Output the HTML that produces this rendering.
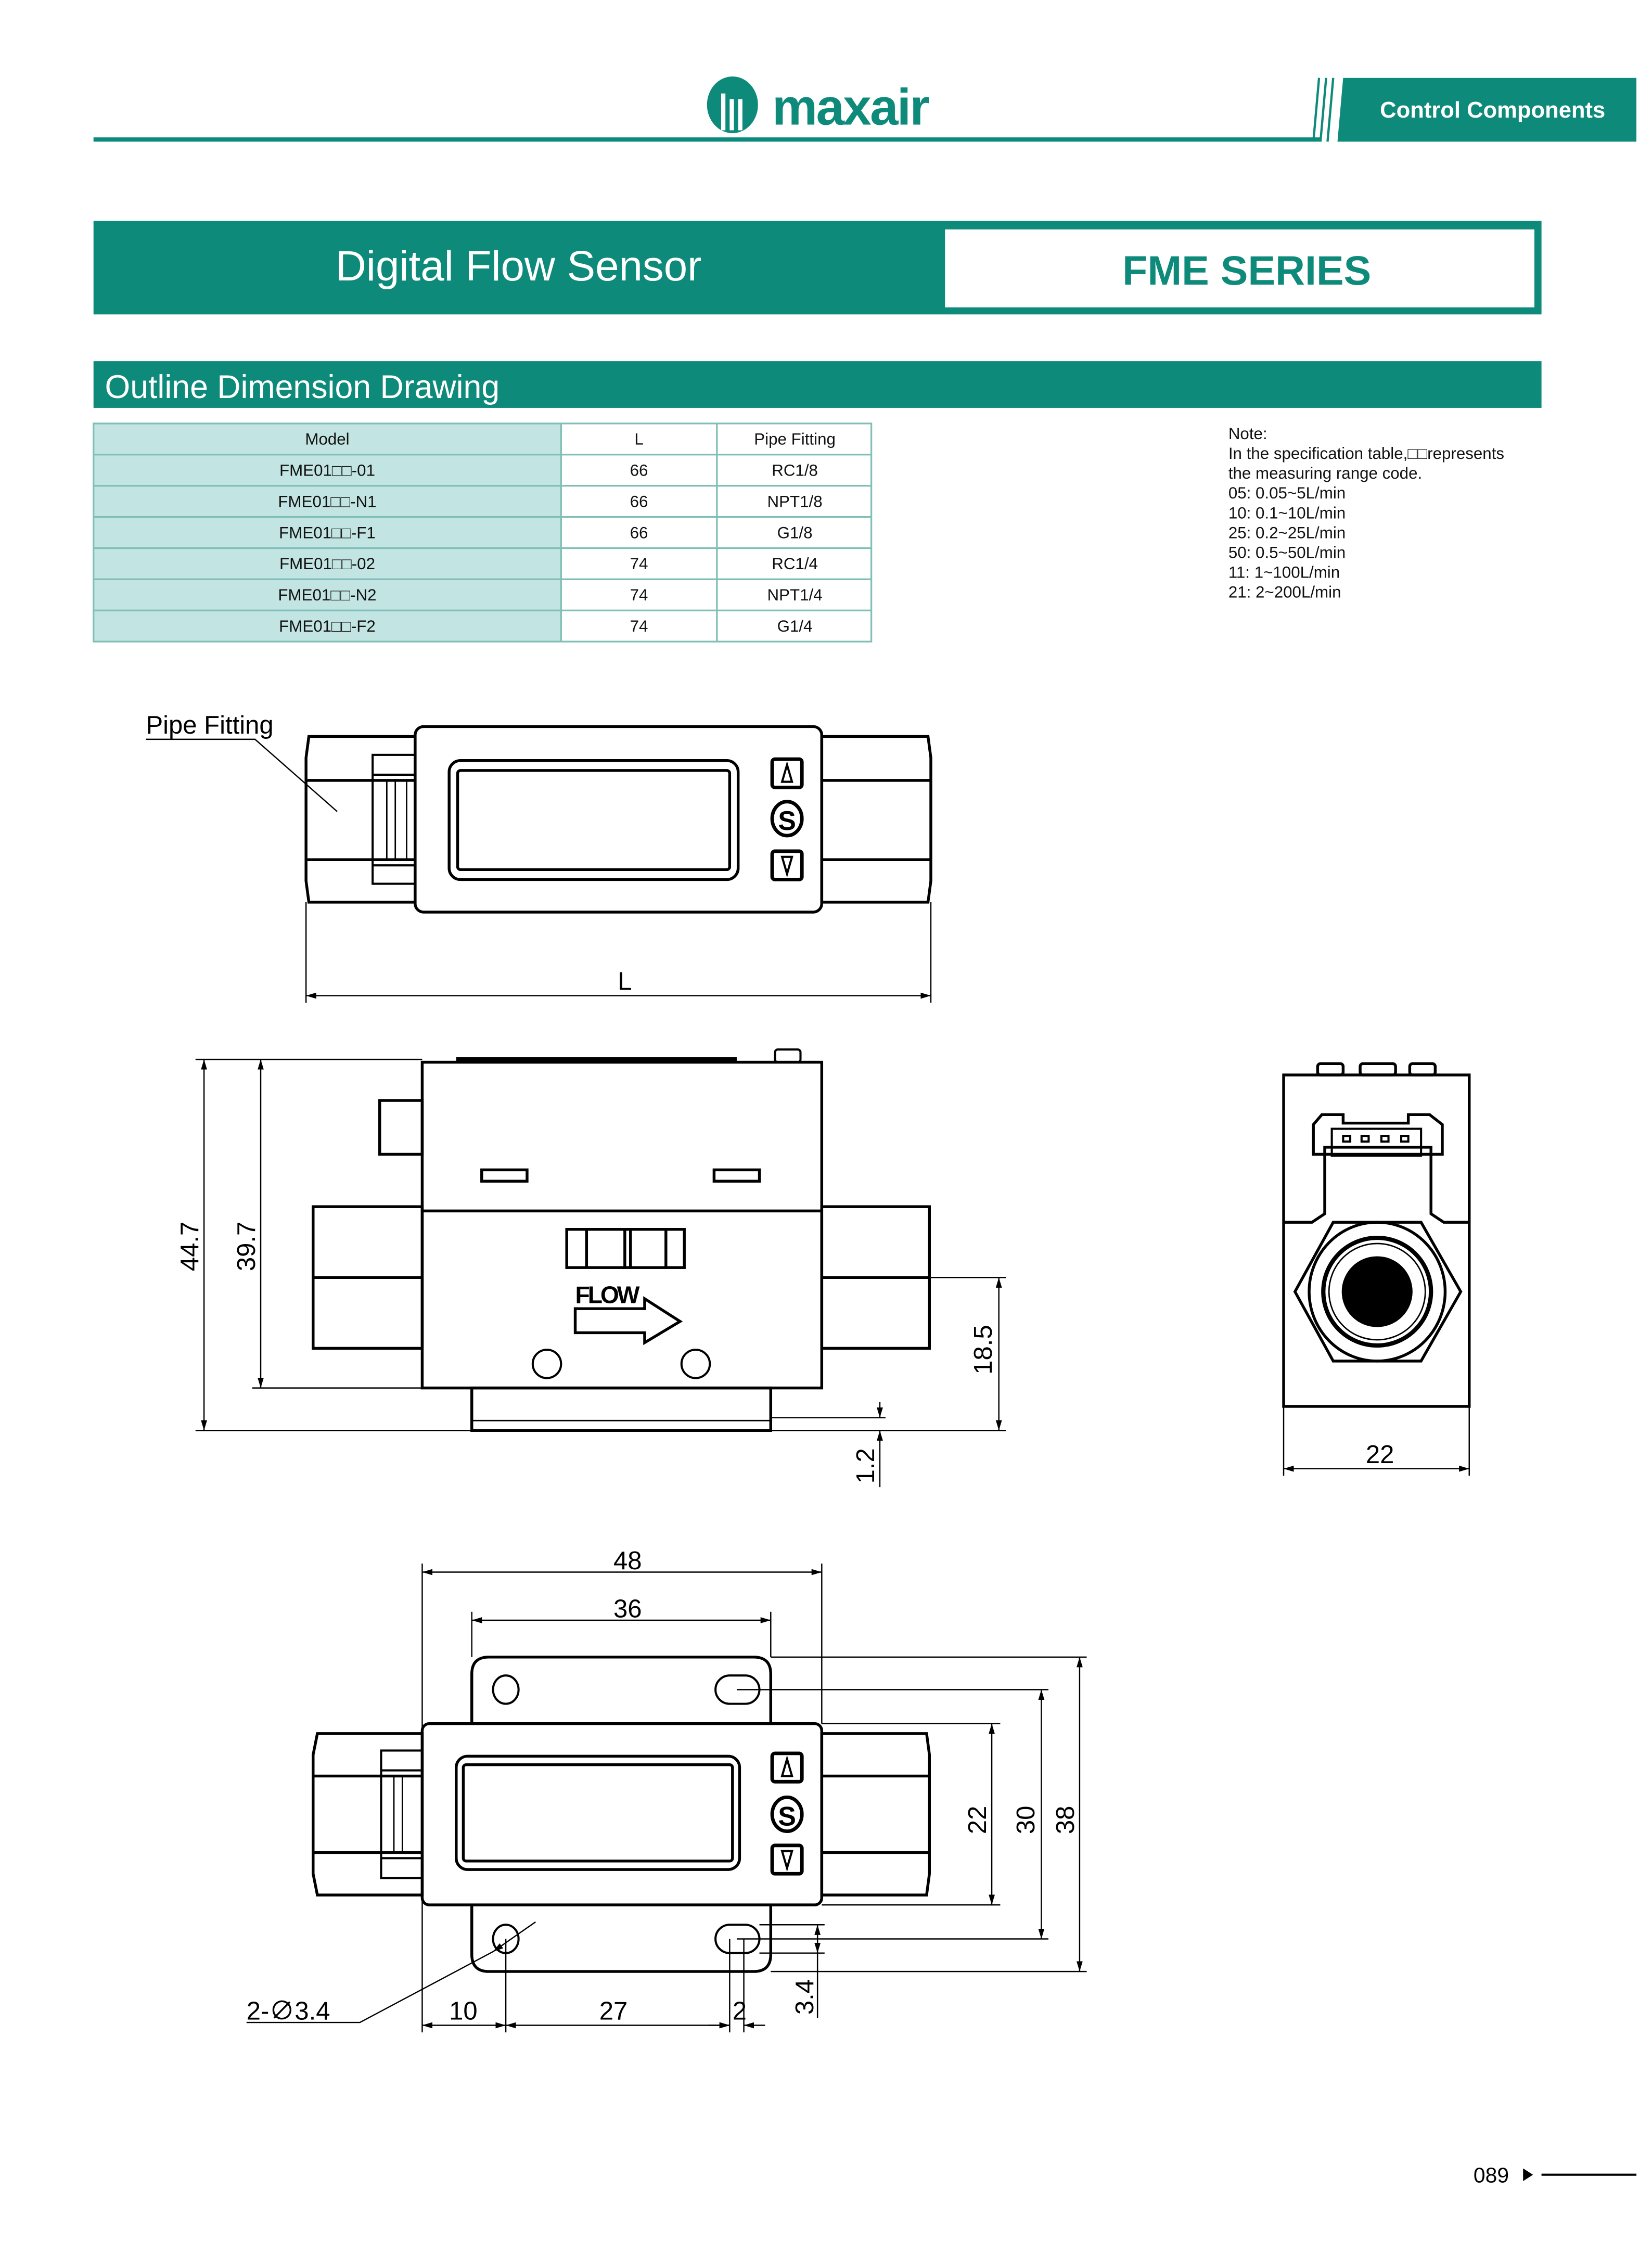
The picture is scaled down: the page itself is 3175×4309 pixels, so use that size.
<!DOCTYPE html>
<html><head><meta charset="utf-8">
<style>
html,body{margin:0;padding:0;background:#fff;}
svg{display:block;}
text{font-family:"Liberation Sans","Noto Sans CJK SC",sans-serif;}
</style></head>
<body>
<svg width="3175" height="4309" viewBox="0 0 1166 1583" preserveAspectRatio="none" xmlns="http://www.w3.org/2000/svg">
<defs>
<marker id="a" viewBox="0 0 10 6" refX="10" refY="3" markerWidth="8" markerHeight="5" orient="auto-start-reverse"><path d="M0,0 L10,3 L0,6 z" fill="#000"/></marker>
</defs>
<rect width="1166" height="1583" fill="#fff"/>
<!-- header -->
<g fill="#0e8a7b">
<ellipse cx="517" cy="74" rx="18" ry="20"/>
<rect x="509" y="66" width="3" height="26" fill="#fff"/><rect x="515" y="70" width="3" height="22" fill="#fff"/><rect x="521" y="70" width="3" height="22" fill="#fff"/>
</g>
<text x="545" y="88" font-size="36" font-weight="bold" fill="#0e8a7b" letter-spacing="-1">maxair</text>
<rect x="66" y="97" width="866" height="3" fill="#0e8a7b"/>
<polygon points="948,55 1155,55 1155,100 944,100" fill="#0e8a7b"/>
<g stroke="#0e8a7b" stroke-width="1.6"><line x1="941" y1="55" x2="937" y2="100"/><line x1="936" y1="55" x2="932" y2="100"/><line x1="931" y1="55" x2="927" y2="100"/></g>
<text x="974" y="83" font-size="16" font-weight="bold" fill="#fff">Control Components</text>
<!-- title -->
<rect x="66" y="156" width="1022" height="66" fill="#0e8a7b"/>
<rect x="667" y="162" width="416" height="55" fill="#fff"/>
<text x="366" y="198" font-size="30" fill="#fff" text-anchor="middle">Digital Flow Sensor</text>
<text x="880" y="201" font-size="29" font-weight="bold" fill="#0e8a7b" text-anchor="middle">FME SERIES</text>
<rect x="66" y="255" width="1022" height="33" fill="#0e8a7b"/>
<text x="74" y="281" font-size="23" fill="#fff">Outline Dimension Drawing</text>
<!-- table -->
<rect x="66" y="299" width="330" height="154" fill="#c2e4e2"/>
<g stroke="#7fbfb6" stroke-width="1.2" fill="none">
<rect x="66" y="299" width="549" height="154"/>
<line x1="396" y1="299" x2="396" y2="453"/><line x1="506" y1="299" x2="506" y2="453"/>
<line x1="66" y1="321" x2="615" y2="321"/><line x1="66" y1="343" x2="615" y2="343"/><line x1="66" y1="365" x2="615" y2="365"/><line x1="66" y1="387" x2="615" y2="387"/><line x1="66" y1="409" x2="615" y2="409"/><line x1="66" y1="431" x2="615" y2="431"/>
</g>
<g font-size="11.5" text-anchor="middle" fill="#111">
<text x="231" y="314">Model</text><text x="451" y="314">L</text><text x="561" y="314">Pipe Fitting</text>
<text x="231" y="336">FME01□□-01</text><text x="451" y="336">66</text><text x="561" y="336">RC1/8</text>
<text x="231" y="358">FME01□□-N1</text><text x="451" y="358">66</text><text x="561" y="358">NPT1/8</text>
<text x="231" y="380">FME01□□-F1</text><text x="451" y="380">66</text><text x="561" y="380">G1/8</text>
<text x="231" y="402">FME01□□-02</text><text x="451" y="402">74</text><text x="561" y="402">RC1/4</text>
<text x="231" y="424">FME01□□-N2</text><text x="451" y="424">74</text><text x="561" y="424">NPT1/4</text>
<text x="231" y="446">FME01□□-F2</text><text x="451" y="446">74</text><text x="561" y="446">G1/4</text>
</g>
<g font-size="11.5" fill="#111">
<text x="867" y="310">Note:</text>
<text x="867" y="324">In the specification table,□□represents</text>
<text x="867" y="338">the measuring range code.</text>
<text x="867" y="352">05:  0.05~5L/min</text>
<text x="867" y="366">10:  0.1~10L/min</text>
<text x="867" y="380">25:  0.2~25L/min</text>
<text x="867" y="394">50:  0.5~50L/min</text>
<text x="867" y="408">11:  1~100L/min</text>
<text x="867" y="422">21:  2~200L/min</text>
</g>

<!-- TOP VIEW -->
<g stroke="#000" fill="none" stroke-width="2">
<path d="M218,520 H293 V637 H218 L216,622 V535 Z"/>
<line x1="217" y1="551" x2="293" y2="551"/><line x1="217" y1="607" x2="293" y2="607"/>
<path d="M580,520 H655 L657,535 V622 L655,637 H580 Z"/>
<line x1="580" y1="551" x2="657" y2="551"/><line x1="580" y1="607" x2="657" y2="607"/>
<rect x="263" y="533" width="30" height="91" stroke-width="1.5"/>
<line x1="263" y1="547" x2="293" y2="547" stroke-width="1.5"/><line x1="263" y1="611" x2="293" y2="611" stroke-width="1.5"/>
<line x1="273" y1="551" x2="273" y2="607" stroke-width="1"/><line x1="279" y1="551" x2="279" y2="607" stroke-width="1"/><line x1="287" y1="551" x2="287" y2="607" stroke-width="1"/>
<rect x="293" y="513" width="287" height="131" rx="6"/>
<rect x="317" y="537" width="204" height="84" rx="8"/>
<rect x="323" y="544" width="192" height="70" rx="2"/>
<rect x="545" y="536" width="21" height="20" rx="2" stroke-width="2.5"/>
<path d="M555.5,540 L559,552 H552 Z" stroke-width="1.5"/>
<rect x="545" y="601" width="21" height="20" rx="2" stroke-width="2.5"/>
<path d="M555.5,617 L559,605 H552 Z" stroke-width="1.5"/>
<ellipse cx="555.5" cy="578" rx="10.5" ry="12" stroke-width="2.5"/>
</g>
<text x="555.5" y="586" font-size="19" font-weight="bold" text-anchor="middle">S</text>
<text x="103" y="518" font-size="18">Pipe Fitting</text>
<g stroke="#000" stroke-width="0.9" fill="none">
<polyline points="103,522 180,522 238,573"/>
<line x1="216" y1="637" x2="216" y2="708"/><line x1="657" y1="637" x2="657" y2="708"/>
<line x1="216" y1="703" x2="657" y2="703" marker-start="url(#a)" marker-end="url(#a)"/>
</g>
<text x="441" y="699" font-size="18" text-anchor="middle">L</text>

<!-- SIDE VIEW -->
<g stroke="#000" fill="none" stroke-width="2">
<line x1="322" y1="748" x2="520" y2="748" stroke-width="3"/>
<rect x="547" y="741" width="18" height="9" rx="2" stroke-width="1.5"/>
<rect x="298" y="750" width="282" height="230"/>
<line x1="298" y1="855" x2="580" y2="855"/>
<rect x="268" y="777" width="30" height="38"/>
<rect x="340" y="826" width="32" height="8"/><rect x="504" y="826" width="32" height="8"/>
<rect x="221" y="852" width="77" height="100"/><line x1="221" y1="902" x2="298" y2="902"/>
<rect x="580" y="852" width="76" height="100"/><line x1="580" y1="902" x2="656" y2="902"/>
<rect x="333" y="980" width="211" height="30"/>
<line x1="333" y1="1003" x2="544" y2="1003" stroke-width="1"/>
<rect x="400" y="868" width="83" height="27"/>
<line x1="414" y1="868" x2="414" y2="895"/><line x1="441" y1="868" x2="441" y2="895"/><line x1="445" y1="868" x2="445" y2="895"/><line x1="470" y1="868" x2="470" y2="895"/>
<path d="M406,924 H455 V917 L480,933 L455,948 V941 H406 Z"/>
<circle cx="386" cy="963" r="10" stroke-width="1.5"/><circle cx="491" cy="963" r="10" stroke-width="1.5"/>
</g>
<text x="406" y="920" font-size="17" font-weight="bold" letter-spacing="-1.5">FLOW</text>
<g stroke="#000" stroke-width="0.9" fill="none">
<line x1="138" y1="748" x2="298" y2="748"/><line x1="138" y1="1010" x2="333" y2="1010"/><line x1="178" y1="980" x2="298" y2="980"/>
<line x1="144" y1="748" x2="144" y2="1010" marker-start="url(#a)" marker-end="url(#a)"/>
<line x1="184" y1="748" x2="184" y2="980" marker-start="url(#a)" marker-end="url(#a)"/>
<line x1="656" y1="902" x2="710" y2="902"/><line x1="544" y1="1010" x2="710" y2="1010"/><line x1="544" y1="1001" x2="625" y2="1001"/>
<line x1="705" y1="902" x2="705" y2="1010" marker-start="url(#a)" marker-end="url(#a)"/>
<line x1="621" y1="990" x2="621" y2="1001" marker-end="url(#a)"/>
<line x1="621" y1="1050" x2="621" y2="1010" marker-end="url(#a)"/>
</g>
<g font-size="18">
<text transform="translate(140,880) rotate(-90)" text-anchor="middle">44.7</text>
<text transform="translate(180,880) rotate(-90)" text-anchor="middle">39.7</text>
<text transform="translate(700,953) rotate(-90)" text-anchor="middle">18.5</text>
<text transform="translate(617,1035) rotate(-90)" text-anchor="middle">1.2</text>
</g>

<!-- END VIEW -->
<g stroke="#000" fill="none" stroke-width="2">
<rect x="930" y="751" width="18" height="8" rx="2"/><rect x="960" y="751" width="25" height="8" rx="2"/><rect x="995" y="751" width="18" height="8" rx="2"/>
<rect x="906" y="759" width="131" height="234"/>
<path d="M906,863 H926 L935,857 V810 H1010 V857 L1019,863 H1037" />
<path d="M933,787 H948 V793 H994 V787 H1009 L1018,794 V815 H927 V794 Z"/>
<rect x="940" y="797" width="63" height="19" stroke-width="1.5"/>
<g stroke-width="1.5"><rect x="948" y="802" width="5" height="4"/><rect x="961" y="802" width="5" height="4"/><rect x="975" y="802" width="5" height="4"/><rect x="989" y="802" width="5" height="4"/></g>
<polygon points="941,863 1003,863 1031,912 1003,961 941,961 914,912"/>
<ellipse cx="972" cy="912" rx="48" ry="49"/>
<ellipse cx="972" cy="912" rx="38" ry="38" stroke-width="3"/>
<ellipse cx="972" cy="912" rx="34" ry="34" stroke-width="1"/>
</g>
<circle cx="972" cy="912" r="25" fill="#000"/>
<g stroke="#000" stroke-width="0.9">
<line x1="906" y1="993" x2="906" y2="1042"/><line x1="1037" y1="993" x2="1037" y2="1042"/>
<line x1="906" y1="1037" x2="1037" y2="1037" marker-start="url(#a)" marker-end="url(#a)"/>
</g>
<text x="974" y="1033" font-size="18" text-anchor="middle">22</text>

<!-- BOTTOM VIEW -->
<g stroke="#000" fill="none" stroke-width="2">
<path d="M333,1217 V1182 Q333,1170 345,1170 H532 Q544,1170 544,1182 V1217"/>
<path d="M333,1345 V1380 Q333,1392 345,1392 H532 Q544,1392 544,1380 V1345"/>
<ellipse cx="357" cy="1193" rx="9" ry="10" stroke-width="1.5"/>
<rect x="505" y="1183" width="31" height="20" rx="10" stroke-width="1.5"/>
<ellipse cx="357" cy="1369" rx="9" ry="10" stroke-width="1.5"/>
<rect x="505" y="1359" width="31" height="20" rx="10" stroke-width="1.5"/>
<path d="M224,1224 H298 V1338 H224 L221,1323 V1239 Z"/>
<line x1="222" y1="1254" x2="298" y2="1254"/><line x1="222" y1="1308" x2="298" y2="1308"/>
<path d="M580,1224 H654 L656,1239 V1323 L654,1338 H580 Z"/>
<line x1="580" y1="1254" x2="656" y2="1254"/><line x1="580" y1="1308" x2="656" y2="1308"/>
<rect x="269" y="1236" width="29" height="90" stroke-width="1.5"/>
<line x1="269" y1="1250" x2="298" y2="1250" stroke-width="1.5"/><line x1="269" y1="1312" x2="298" y2="1312" stroke-width="1.5"/>
<line x1="278" y1="1254" x2="278" y2="1308" stroke-width="1"/><line x1="284" y1="1254" x2="284" y2="1308" stroke-width="1"/>
<rect x="298" y="1217" width="282" height="128" rx="5"/>
<rect x="322" y="1240" width="200" height="80" rx="8"/>
<rect x="327" y="1246" width="190" height="68" rx="2"/>
<rect x="545" y="1238" width="21" height="20" rx="2" stroke-width="2.5"/>
<path d="M555.5,1242 L559,1254 H552 Z" stroke-width="1.5"/>
<rect x="545" y="1303" width="21" height="20" rx="2" stroke-width="2.5"/>
<path d="M555.5,1319 L559,1307 H552 Z" stroke-width="1.5"/>
<ellipse cx="555.5" cy="1281" rx="10.5" ry="12" stroke-width="2.5"/>
</g>
<text x="555.5" y="1289" font-size="19" font-weight="bold" text-anchor="middle">S</text>
<g stroke="#000" stroke-width="0.9" fill="none">
<line x1="298" y1="1104" x2="298" y2="1435"/><line x1="580" y1="1104" x2="580" y2="1217"/>
<line x1="298" y1="1110" x2="580" y2="1110" marker-start="url(#a)" marker-end="url(#a)"/>
<line x1="333" y1="1138" x2="333" y2="1170"/><line x1="544" y1="1138" x2="544" y2="1170"/>
<line x1="333" y1="1144" x2="544" y2="1144" marker-start="url(#a)" marker-end="url(#a)"/>
<line x1="544" y1="1170" x2="767" y2="1170"/><line x1="544" y1="1392" x2="767" y2="1392"/>
<line x1="520" y1="1193" x2="740" y2="1193"/><line x1="520" y1="1369" x2="740" y2="1369"/>
<line x1="580" y1="1217" x2="706" y2="1217"/><line x1="580" y1="1345" x2="706" y2="1345"/>
<line x1="700" y1="1217" x2="700" y2="1345" marker-start="url(#a)" marker-end="url(#a)"/>
<line x1="735" y1="1193" x2="735" y2="1369" marker-start="url(#a)" marker-end="url(#a)"/>
<line x1="762" y1="1170" x2="762" y2="1392" marker-start="url(#a)" marker-end="url(#a)"/>
<line x1="536" y1="1359" x2="582" y2="1359"/><line x1="536" y1="1379" x2="582" y2="1379"/>
<line x1="577" y1="1359" x2="577" y2="1379" marker-start="url(#a)" marker-end="url(#a)"/>
<line x1="577" y1="1379" x2="577" y2="1425"/>
<line x1="357" y1="1369" x2="357" y2="1435"/><line x1="515" y1="1369" x2="515" y2="1435"/><line x1="525" y1="1369" x2="525" y2="1435"/>
<line x1="298" y1="1430" x2="357" y2="1430" marker-start="url(#a)" marker-end="url(#a)"/>
<line x1="357" y1="1430" x2="515" y2="1430" marker-start="url(#a)" marker-end="url(#a)"/>
<line x1="500" y1="1430" x2="515" y2="1430" marker-end="url(#a)"/>
<line x1="540" y1="1430" x2="525" y2="1430" marker-end="url(#a)"/>
<polyline points="174,1428 254,1428 348,1378"/>
<line x1="348" y1="1378" x2="378" y2="1357" marker-start="url(#a)"/>
</g>
<g font-size="18">
<text x="443" y="1108" text-anchor="middle">48</text>
<text x="443" y="1142" text-anchor="middle">36</text>
<text transform="translate(696,1285) rotate(-90)" text-anchor="middle">22</text>
<text transform="translate(730,1285) rotate(-90)" text-anchor="middle">30</text>
<text transform="translate(758,1285) rotate(-90)" text-anchor="middle">38</text>
<text transform="translate(574,1410) rotate(-90)" text-anchor="middle">3.4</text>
<text x="327" y="1426" text-anchor="middle">10</text>
<text x="433" y="1426" text-anchor="middle">27</text>
<text x="522" y="1426" text-anchor="middle">2</text>
<text x="174" y="1426">2-∅3.4</text>
</g>
<!-- page number -->
<text x="1040" y="1541" font-size="15">089</text>
<path d="M1075,1531 L1082,1535.5 L1075,1540 Z" fill="#000"/>
<line x1="1088" y1="1535.5" x2="1155" y2="1535.5" stroke="#000" stroke-width="1.5"/>
</svg>
</body></html>
